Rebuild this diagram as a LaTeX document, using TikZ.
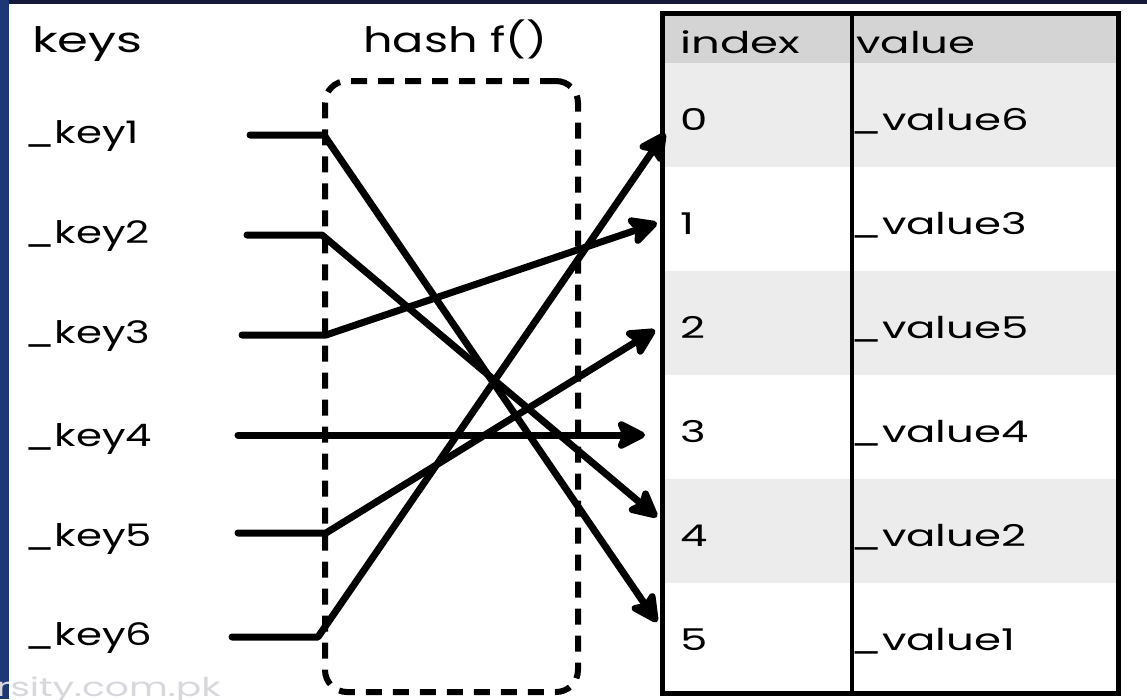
\documentclass[tikz,border=0pt]{standalone}
\usepackage{fontspec}
\setmainfont{Poppins}
\usetikzlibrary{arrows.meta}
\definecolor{navytop}{RGB}{20,24,58}
\definecolor{navyleft}{RGB}{30,56,118}
\definecolor{hdrgray}{RGB}{212,212,212}
\definecolor{rowgray}{RGB}{236,236,236}
\definecolor{wmark}{RGB}{215,215,222}
\newcommand{\sx}[2][1.45]{\scalebox{#1}[1]{#2}}
\tikzset{
  lbl/.style={anchor=base west, inner sep=0pt, font=\fontsize{31}{36}\selectfont},
  hdrlbl/.style={lbl, font=\fontsize{35}{40}\selectfont},
  cell/.style={lbl, font=\fontsize{30}{36}\selectfont},
  link/.style={line width=7pt, line cap=round, line join=round},
  arr/.style={link, -{Stealth[length=34pt,width=34pt,inset=7pt,round]}},
  hashbox/.style={draw, line width=6pt, dash pattern=on 16pt off 11pt, rounded corners=22pt, inner sep=0pt, outer sep=0pt}
}
\begin{document}
\begin{tikzpicture}[x=1pt,y=-1pt]
\useasboundingbox (0,0) rectangle (1147,699);
\fill[white] (0,0) rectangle (1147,699);
\fill[navytop] (0,0) rectangle (1147,3.5);
\fill[navyleft] (0,0) rectangle (9,699);
% watermark
\node[anchor=base west, inner sep=0pt, text=wmark, font=\fontsize{26}{30}\selectfont] (wm) at (-4,696) {\sx{rsity.com.pk}};
% table
\fill[hdrgray] (662,13) rectangle (1118,63);
\fill[rowgray] (662,63) rectangle (1118,167);
\fill[rowgray] (662,271) rectangle (1118,375);
\fill[rowgray] (662,479) rectangle (1118,583);
\draw[line width=3.5pt] (852,13) -- (852,693);
\draw[line width=5pt] (662,13) rectangle (1118,693);
\node[cell] (hidx) at (680,53) {\sx[1.5]{index}};
\node[cell] (hval) at (856,53) {\sx[1.45]{value}};
\foreach \i/\v/\b in {0/6/130,1/3/234,2/5/338,3/4/442,4/2/546,5/1/650}{
  \node[cell] (idx\i) at (680,\b) {\sx{\i}};
  \node[cell] (val\i) at (850,\b) {\sx[1.45]{\_value\v}};
}
% headers
\node[hdrlbl] (hkeys) at (32,52) {\sx[1.42]{keys}};
\node[hdrlbl] (hhash) at (363,52) {\sx[1.32]{hash f()}};
% keys
\foreach \i/\b in {1/143,2/243,3/343,4/446,5/546,6/645}{
  \node[lbl] (key\i) at (24,\b) {\sx[1.35]{\_key\i}};
}
% hash box
\node[hashbox, minimum width=253pt, minimum height=611pt] (hash) at (451.5,386.5) {};
% connector points
\coordinate (k1s) at (250,135); \coordinate (k1h) at (324,135);
\coordinate (k2s) at (247,235); \coordinate (k2h) at (322,235);
\coordinate (k3s) at (242,335); \coordinate (k3h) at (326,335);
\coordinate (k4s) at (238,435);
\coordinate (k5s) at (238,533); \coordinate (k5h) at (326,533);
\coordinate (k6s) at (232,637); \coordinate (k6h) at (318,637);
\coordinate (t0) at (665,133);
\coordinate (t1) at (657,223);
\coordinate (t2) at (655,330);
\coordinate (t3) at (645,435);
\coordinate (t4) at (657,517);
\coordinate (t5) at (657,622);
\draw[arr] (k1s) -- (k1h) -- (t5);
\draw[arr] (k2s) -- (k2h) -- (t4);
\draw[arr] (k3s) -- (k3h) -- (t1);
\draw[arr] (k4s) -- (t3);
\draw[arr] (k5s) -- (k5h) -- (t2);
\draw[arr] (k6s) -- (k6h) -- (t0);
\end{tikzpicture}
\end{document}
